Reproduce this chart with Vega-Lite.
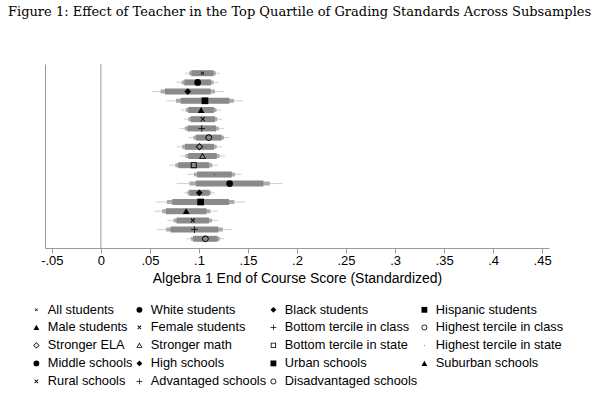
{
  "$schema": "https://vega.github.io/schema/vega-lite/v6.json",
  "autosize": {"type": "none"},
  "padding": {"left": 45, "top": 64, "right": 49, "bottom": 151},
  "width": 504,
  "height": 184,
  "background": "white",
  "title": {"text": "Figure 1: Effect of Teacher in the Top Quartile of Grading Standards Across Subsamples", "anchor": "start", "frame": "group", "font": "DejaVu Serif", "fontSize": 13, "fontWeight": "normal", "color": "black", "dx": -37, "offset": 45},
  "config": {"view": {"stroke": null}},
  "data": {"values": [
    {"group": "All students", "est": 0.1036, "lo90": 0.0922, "hi90": 0.1150, "lo95": 0.0900, "hi95": 0.1172, "lo99": 0.0857, "hi99": 0.1215},
    {"group": "White students", "est": 0.0987, "lo90": 0.0851, "hi90": 0.1123, "lo95": 0.0825, "hi95": 0.1149, "lo99": 0.0773, "hi99": 0.1201},
    {"group": "Black students", "est": 0.0886, "lo90": 0.0653, "hi90": 0.1119, "lo95": 0.0609, "hi95": 0.1163, "lo99": 0.0520, "hi99": 0.1252},
    {"group": "Hispanic students", "est": 0.1061, "lo90": 0.0813, "hi90": 0.1309, "lo95": 0.0766, "hi95": 0.1356, "lo99": 0.0672, "hi99": 0.1450},
    {"group": "Male students", "est": 0.1022, "lo90": 0.0891, "hi90": 0.1153, "lo95": 0.0866, "hi95": 0.1178, "lo99": 0.0816, "hi99": 0.1228},
    {"group": "Female students", "est": 0.1039, "lo90": 0.0915, "hi90": 0.1163, "lo95": 0.0891, "hi95": 0.1187, "lo99": 0.0844, "hi99": 0.1234},
    {"group": "Bottom tercile in class", "est": 0.1029, "lo90": 0.0884, "hi90": 0.1174, "lo95": 0.0856, "hi95": 0.1202, "lo99": 0.0801, "hi99": 0.1257},
    {"group": "Highest tercile in class", "est": 0.1100, "lo90": 0.0969, "hi90": 0.1231, "lo95": 0.0944, "hi95": 0.1256, "lo99": 0.0894, "hi99": 0.1306},
    {"group": "Stronger ELA", "est": 0.1005, "lo90": 0.0857, "hi90": 0.1153, "lo95": 0.0829, "hi95": 0.1181, "lo99": 0.0773, "hi99": 0.1237},
    {"group": "Stronger math", "est": 0.1036, "lo90": 0.0891, "hi90": 0.1181, "lo95": 0.0863, "hi95": 0.1209, "lo99": 0.0808, "hi99": 0.1264},
    {"group": "Bottom tercile in state", "est": 0.0947, "lo90": 0.0789, "hi90": 0.1105, "lo95": 0.0759, "hi95": 0.1135, "lo99": 0.0699, "hi99": 0.1195},
    {"group": "Highest tercile in state", "est": 0.1158, "lo90": 0.0982, "hi90": 0.1334, "lo95": 0.0949, "hi95": 0.1367, "lo99": 0.0882, "hi99": 0.1434},
    {"group": "Middle schools", "est": 0.1313, "lo90": 0.0969, "hi90": 0.1657, "lo95": 0.0904, "hi95": 0.1722, "lo99": 0.0773, "hi99": 0.1853},
    {"group": "High schools", "est": 0.1003, "lo90": 0.0901, "hi90": 0.1105, "lo95": 0.0882, "hi95": 0.1124, "lo99": 0.0843, "hi99": 0.1163},
    {"group": "Urban schools", "est": 0.1017, "lo90": 0.0728, "hi90": 0.1306, "lo95": 0.0673, "hi95": 0.1361, "lo99": 0.0563, "hi99": 0.1471},
    {"group": "Suburban schools", "est": 0.0870, "lo90": 0.0663, "hi90": 0.1077, "lo95": 0.0624, "hi95": 0.1116, "lo99": 0.0545, "hi99": 0.1195},
    {"group": "Rural schools", "est": 0.0937, "lo90": 0.0772, "hi90": 0.1102, "lo95": 0.0741, "hi95": 0.1133, "lo99": 0.0678, "hi99": 0.1196},
    {"group": "Advantaged schools", "est": 0.0954, "lo90": 0.0711, "hi90": 0.1197, "lo95": 0.0665, "hi95": 0.1243, "lo99": 0.0572, "hi99": 0.1336},
    {"group": "Disadvantaged schools", "est": 0.1066, "lo90": 0.0942, "hi90": 0.1190, "lo95": 0.0918, "hi95": 0.1214, "lo99": 0.0871, "hi99": 0.1261}
  ]},
  "encoding": {
    "y": {"field": "group", "type": "nominal", "sort": null, "scale": {"type": "point", "padding": 1}, "axis": {"labels": false, "ticks": false, "title": null, "domain": true, "domainColor": "#999999", "grid": false}}
  },
  "layer": [
    {
      "data": {"values": [{"zero": 0}]},
      "mark": {"type": "rule", "color": "#999999", "strokeWidth": 1},
      "encoding": {"x": {"field": "zero", "type": "quantitative"}, "y": null}
    },
    {
      "mark": {"type": "rule", "color": "#cfcfcf", "strokeWidth": 1},
      "encoding": {
        "x": {"field": "lo99", "type": "quantitative", "scale": {"domain": [-0.057, 0.457], "nice": false, "zero": false},
          "axis": {"values": [-0.05, 0, 0.05, 0.1, 0.15, 0.2, 0.25, 0.3, 0.35, 0.4, 0.45], "labelExpr": "replace(replace(format(datum.value, '.2~f'), '\u2212', '-'), '0.', '.')", "grid": false, "domainColor": "#999999", "tickColor": "#999999", "tickSize": 5, "labelColor": "black", "labelFont": "Liberation Sans", "labelFontSize": 13, "labelPadding": 1, "title": "Algebra 1 End of Course Score (Standardized)", "titleFont": "Liberation Sans", "titleFontSize": 14, "titleFontWeight": "normal", "titleColor": "black", "titlePadding": 4}},
        "x2": {"field": "hi99"}
      }
    },
    {
      "mark": {"type": "rule", "color": "#ababab", "strokeWidth": 4, "strokeCap": "butt"},
      "encoding": {"x": {"field": "lo95", "type": "quantitative"}, "x2": {"field": "hi95"}}
    },
    {
      "mark": {"type": "rule", "color": "#8a8a8a", "strokeWidth": 6, "strokeCap": "butt"},
      "encoding": {"x": {"field": "lo90", "type": "quantitative"}, "x2": {"field": "hi90"}}
    },
    {
      "mark": {"type": "point", "filled": true, "opacity": 1, "size": 45, "color": "black"},
      "encoding": {
        "x": {"field": "est", "type": "quantitative"},
        "shape": {"field": "group", "type": "nominal", "sort": null,
          "scale": {"range": [
            "M-0.5,-0.35 L-0.35,-0.5 L0,-0.15 L0.35,-0.5 L0.5,-0.35 L0.15,0 L0.5,0.35 L0.35,0.5 L0,0.15 L-0.35,0.5 L-0.5,0.35 L-0.15,0 Z",
            "circle",
            "diamond",
            "square",
            "triangle-up",
            "M-0.7,-0.5 L-0.5,-0.7 L0,-0.2 L0.5,-0.7 L0.7,-0.5 L0.2,0 L0.7,0.5 L0.5,0.7 L0,0.2 L-0.5,0.7 L-0.7,0.5 L-0.2,0 Z",
            "M-1,-0.12 L-0.12,-0.12 L-0.12,-1 L0.12,-1 L0.12,-0.12 L1,-0.12 L1,0.12 L0.12,0.12 L0.12,1 L-0.12,1 L-0.12,0.12 L-1,0.12 Z",
            "M1,0 A1,1 0 1,0 -1,0 A1,1 0 1,0 1,0 Z M0.72,0 A0.72,0.72 0 1,1 -0.72,0 A0.72,0.72 0 1,1 0.72,0 Z",
            "M0,-1.1 L1.1,0 L0,1.1 L-1.1,0 Z M0,-0.75 L-0.75,0 L0,0.75 L0.75,0 Z",
            "M0,-1 L1.05,0.8 L-1.05,0.8 Z M0,-0.5 L-0.62,0.58 L0.62,0.58 Z",
            "M-0.9,-0.9 L0.9,-0.9 L0.9,0.9 L-0.9,0.9 Z M-0.62,-0.62 L-0.62,0.62 L0.62,0.62 L0.62,-0.62 Z",
            "M0.12,0 A0.12,0.12 0 1,0 -0.12,0 A0.12,0.12 0 1,0 0.12,0 Z",
            "circle",
            "diamond",
            "square",
            "triangle-up",
            "M-0.7,-0.5 L-0.5,-0.7 L0,-0.2 L0.5,-0.7 L0.7,-0.5 L0.2,0 L0.7,0.5 L0.5,0.7 L0,0.2 L-0.5,0.7 L-0.7,0.5 L-0.2,0 Z",
            "M-1,-0.12 L-0.12,-0.12 L-0.12,-1 L0.12,-1 L0.12,-0.12 L1,-0.12 L1,0.12 L0.12,0.12 L0.12,1 L-0.12,1 L-0.12,0.12 L-1,0.12 Z",
            "M1,0 A1,1 0 1,0 -1,0 A1,1 0 1,0 1,0 Z M0.72,0 A0.72,0.72 0 1,1 -0.72,0 A0.72,0.72 0 1,1 0.72,0 Z"
          ]},
          "legend": {"orient": "none", "legendX": -15, "legendY": 239, "columns": 4, "direction": "horizontal", "gridAlign": "each", "title": null, "labelFont": "Liberation Sans", "labelFontSize": 12.8, "labelColor": "black", "symbolSize": 34, "symbolFillColor": "black", "symbolStrokeWidth": 0, "rowPadding": 4, "columnPadding": 0, "labelOffset": 5, "labelLimit": 200}
        }
      }
    }
  ]
}
